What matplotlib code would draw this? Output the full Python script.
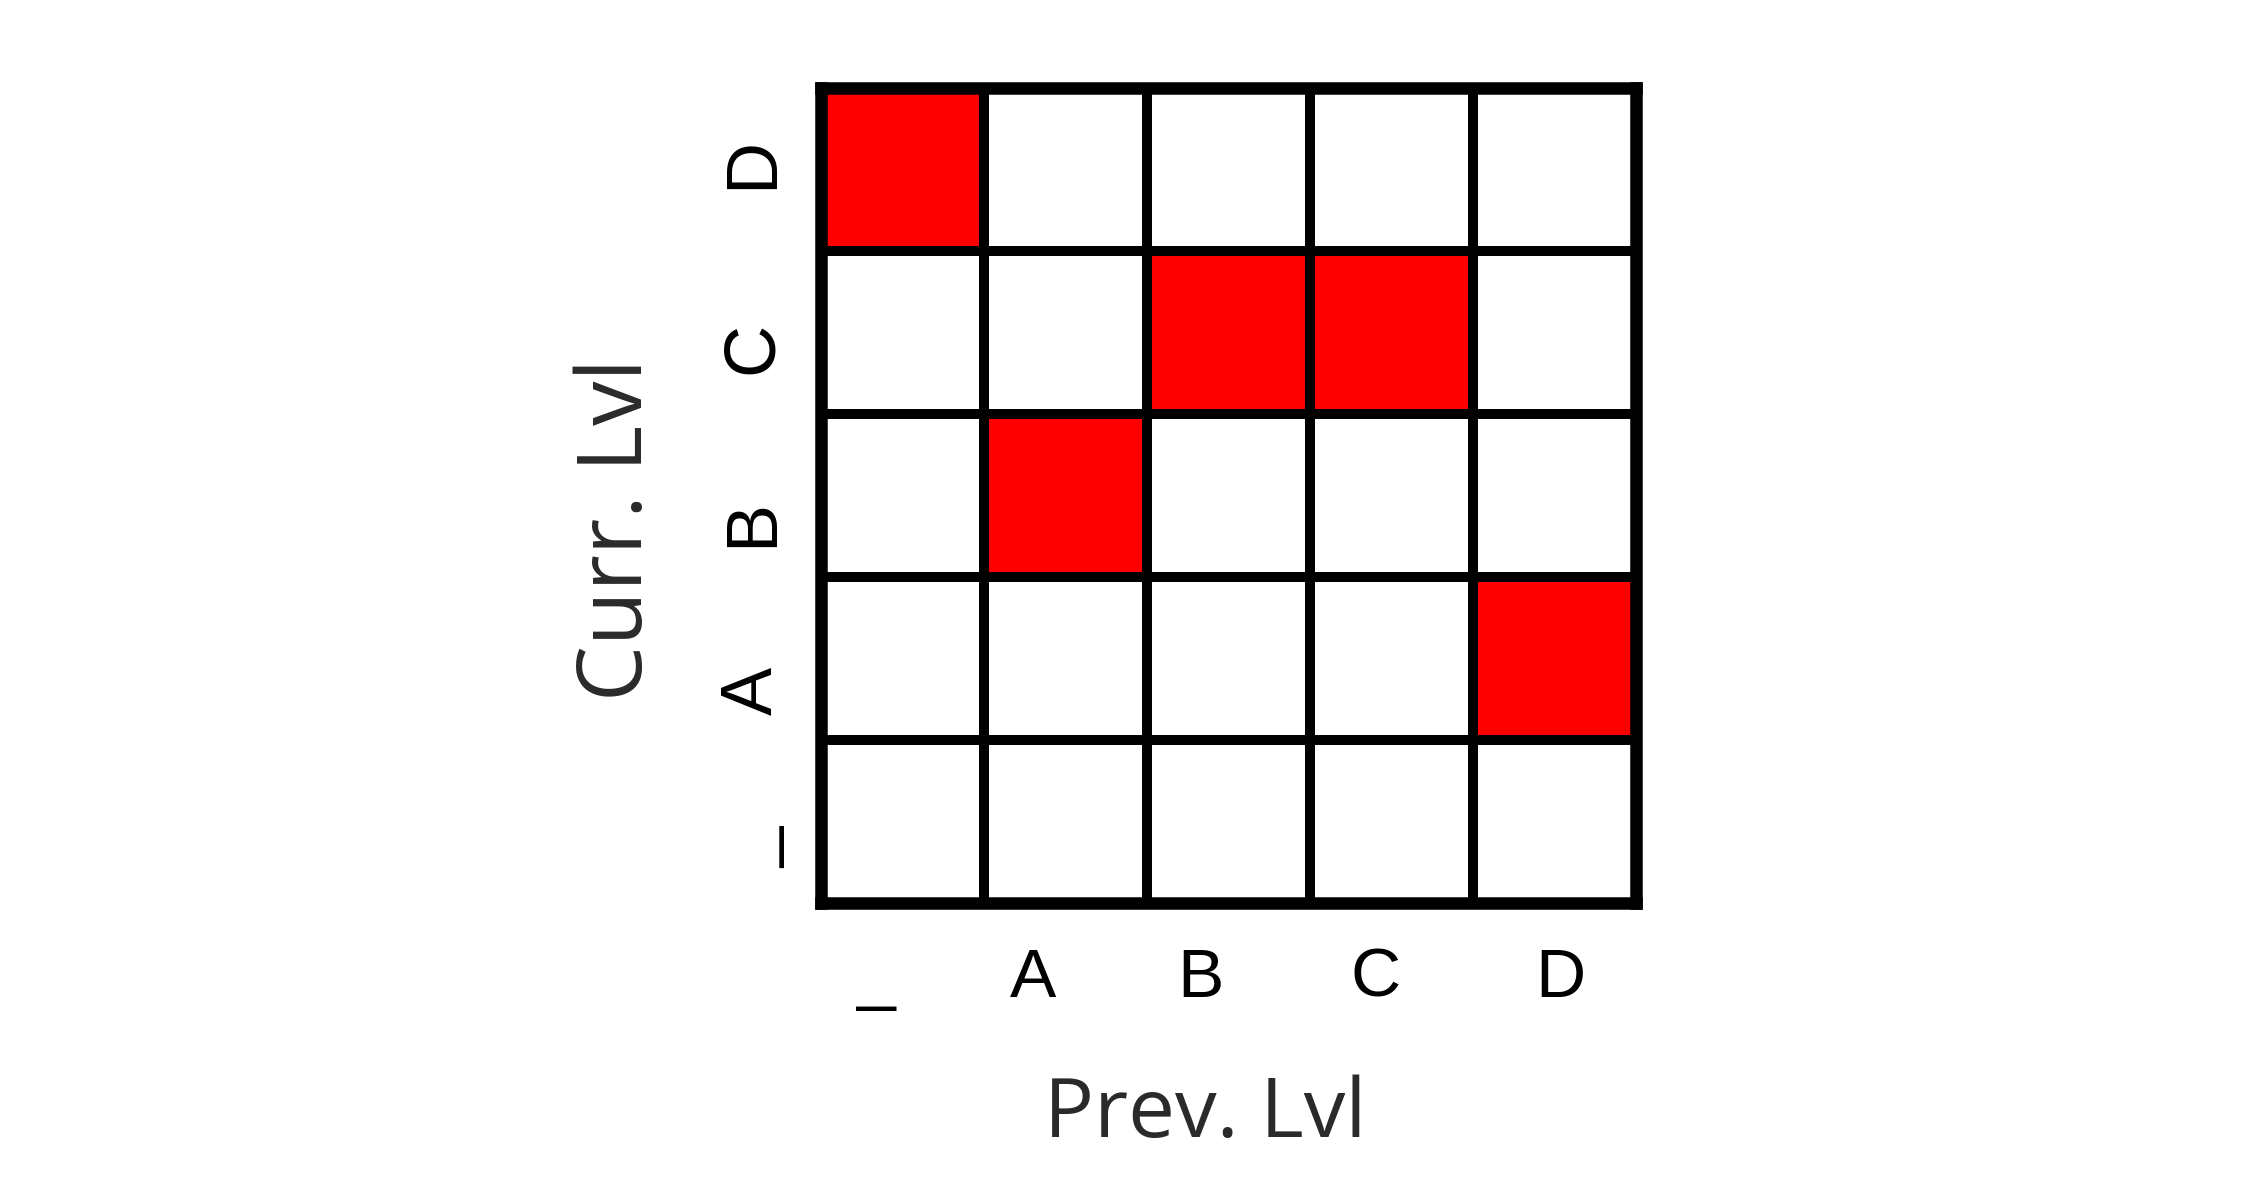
import numpy as np
import matplotlib
matplotlib.use('Agg')
import matplotlib.pyplot as plt
from matplotlib.colors import ListedColormap

# level labels (x = previous level, y = current level, bottom to top)
prev_levels = ['_', 'A', 'B', 'C', 'D']
curr_levels = ['_', 'A', 'B', 'C', 'D']

# 1 = transition seen, one list per current level, columns follow prev_levels
seen_curr_blank = [0, 0, 0, 0, 0]
seen_curr_A = [0, 0, 0, 0, 1]
seen_curr_B = [0, 1, 0, 0, 0]
seen_curr_C = [0, 0, 1, 1, 0]
seen_curr_D = [1, 0, 0, 0, 0]

z = np.array([seen_curr_blank, seen_curr_A, seen_curr_B, seen_curr_C, seen_curr_D])

# where the tick labels sit along each axis (same on both axes in the original)
tick_pos = [0.34, 1.30, 2.33, 3.405, 4.54]

fig = plt.figure(figsize=(11.21, 6.02), dpi=200)
ax = fig.add_axes([0.3662, 0.25, 0.3633, 0.6769])

ax.pcolormesh(np.arange(6), np.arange(6), z, cmap=ListedColormap(['white', 'red']),
              vmin=0, vmax=1, edgecolors='black', linewidth=3.5)
ax.set_xlim(0, 5)
ax.set_ylim(0, 5)
for s in ax.spines.values():
    s.set_linewidth(4.5)
    s.set_color('black')

ax.set_xticks(tick_pos, prev_levels, fontsize=25, family='Liberation Sans')
ax.set_yticks(tick_pos, curr_levels, fontsize=26, family='Liberation Sans',
              rotation=90, va='center')
ax.tick_params(axis='x', length=0, pad=15.8)
ax.tick_params(axis='y', length=0, pad=12.2)

ax.set_xlabel('Prev. Lvl', family='Open Sans', fontsize=30, color='#2a2a2a',
              va='baseline')
ax.xaxis.set_label_coords(0.4715, -0.2871)
ax.set_ylabel('Curr. Lvl', family='Open Sans', fontsize=32, color='#2a2a2a',
              va='baseline')
ax.yaxis.set_label_coords(-0.2198, 0.4577)

fig.savefig('out.png', dpi=200)
